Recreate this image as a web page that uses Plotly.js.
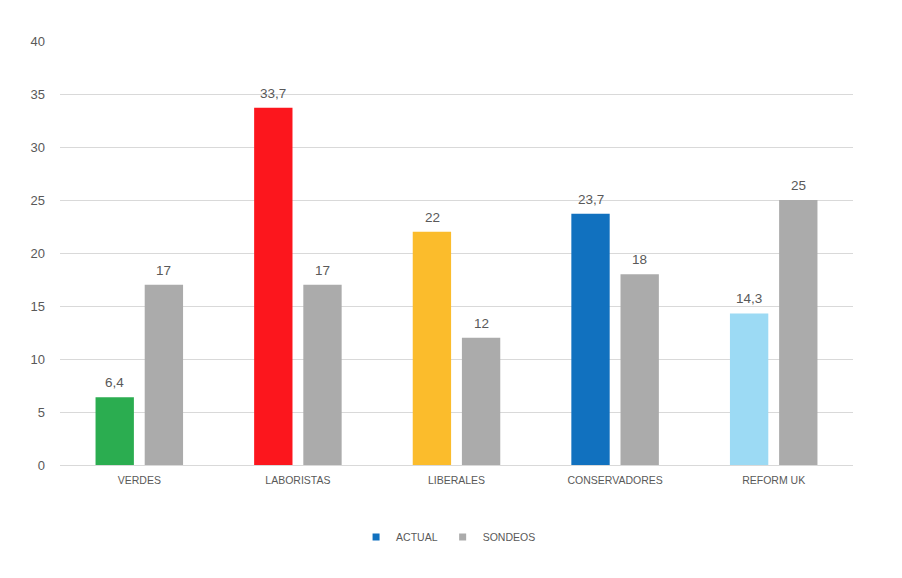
<!DOCTYPE html>
<html>
<head>
<meta charset="utf-8">
<script src="https://cdn.plot.ly/plotly-3.0.1.min.js"></script>
<style>
  html, body { margin: 0; padding: 0; background: #ffffff; }
  #graph { width: 902px; height: 578px; }
</style>
</head>
<body>
<div id="graph"></div>
<script>
var partidos = ['VERDES', 'LABORISTAS', 'LIBERALES', 'CONSERVADORES', 'REFORM UK'];
var actual = [6.4, 33.7, 22, 23.7, 14.3];
var sondeos = [17, 17, 12, 18, 25];
var coloresActual = ['#2bad50', '#fc161d', '#fbbc2c', '#1171bf', '#9cdaf4'];
var colorSondeos = '#ababab';
var colorLeyendaActual = '#1171bf';

var textoGris = '#595959';
var fuente = 'Liberation Sans, Arial, sans-serif';

var actualBars = {
    x: partidos,
    y: actual,
    name: 'ACTUAL',
    type: 'bar',
    marker: { color: coloresActual },
    showlegend: false
};
var sondeosBars = {
    x: partidos,
    y: sondeos,
    name: 'SONDEOS',
    type: 'bar',
    marker: { color: colorSondeos },
    showlegend: false
};
// legend entries only (small squares like the original)
var leyendaActual = {
    x: [partidos[0]], y: [null], name: 'ACTUAL', type: 'scatter', mode: 'markers',
    marker: { symbol: 'square', size: 7, color: colorLeyendaActual }
};
var leyendaSondeos = {
    x: [partidos[0]], y: [null], name: 'SONDEOS', type: 'scatter', mode: 'markers',
    marker: { symbol: 'square', size: 7, color: colorSondeos }
};

// value labels above each bar, pushed up a bit more than plotly's outside text
function etiquetas(valores, desplazamiento) {
    return valores.map(function (v, i) {
        return {
            x: partidos[i], y: v, xref: 'x', yref: 'y',
            text: String(v).replace('.', ','),
            showarrow: false,
            xshift: desplazamiento, yshift: 5,
            yanchor: 'bottom',
            font: { family: fuente, size: 13.5, color: textoGris }
        };
    });
}

var layout = {
    width: 902,
    height: 578,
    margin: { l: 60, r: 49, t: 41, b: 113 },
    paper_bgcolor: '#ffffff',
    plot_bgcolor: '#ffffff',
    separators: ',.',
    barmode: 'group',
    bargap: 0.38,
    bargroupgap: 0.22,
    font: { family: fuente, color: textoGris },
    xaxis: {
        type: 'category',
        showgrid: false,
        showline: true,
        linecolor: '#d9d9d9',
        linewidth: 1,
        ticks: '',
        ticklabelstandoff: 5,
        tickfont: { family: fuente, size: 10.5, color: textoGris }
    },
    yaxis: {
        range: [0, 40],
        dtick: 5,
        showgrid: true,
        gridcolor: '#d9d9d9',
        gridwidth: 1,
        zeroline: false,
        showline: false,
        ticks: '',
        ticklabelstandoff: 14,
        tickfont: { family: fuente, size: 13, color: textoGris },
        automargin: false
    },
    legend: {
        orientation: 'h',
        x: 0.49,
        xanchor: 'center',
        y: -0.17,
        yanchor: 'middle',
        font: { family: fuente, size: 10.5, color: textoGris },
        itemwidth: 30,
        tracegroupgap: 0
    },
    annotations: etiquetas(actual, -24.5).concat(etiquetas(sondeos, 24.5)),
    showlegend: true
};

Plotly.newPlot('graph', [actualBars, sondeosBars, leyendaActual, leyendaSondeos], layout, { displayModeBar: false, staticPlot: true });
</script>
</body>
</html>
